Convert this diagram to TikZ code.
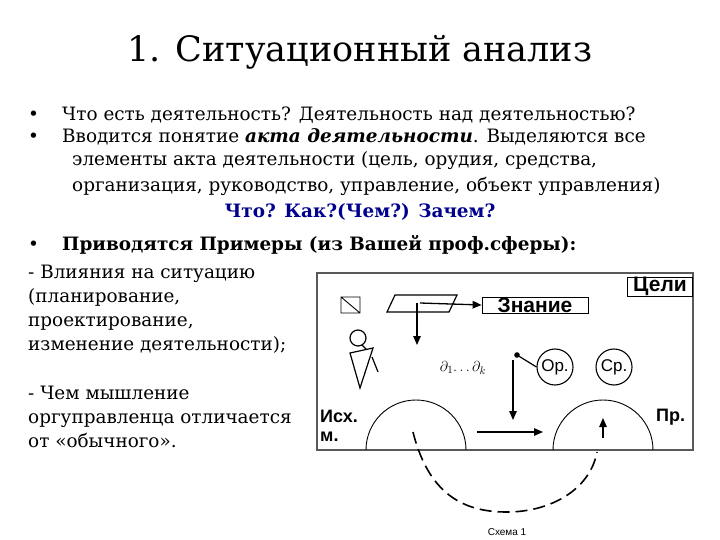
\documentclass[tikz,border=0pt]{standalone}
\usepackage{fontspec}
\setmainfont{DejaVu Serif}
\newfontfamily\schfont{Liberation Sans}
\usetikzlibrary{arrows.meta}
\begin{document}
\begin{tikzpicture}[x=1pt,y=-1pt,
  txt/.style={anchor=base west,inner sep=0,font=\fontsize{18.4}{20}\selectfont},
  sch/.style={font=\schfont\bfseries\fontsize{21}{22}\selectfont,inner sep=0},
  arr/.style={-{Triangle[length=9pt,width=7.5pt]},line width=1.3pt},
  ln/.style={line width=0.9pt}]
\useasboundingbox (0,0) rectangle (720,540);
\node[inner sep=0,font=\fontsize{35}{38}\selectfont] (title) at (360,52) {1. Ситуационный анализ};
\node[txt] (b1) at (28,121) {•};
\node[txt] (t1) at (62,121) {Что есть деятельность? Деятельность над деятельностью?};
\node[txt] (b2) at (28,143) {•};
\node[txt] (t2) at (62,143) {Вводится понятие \textbf{\textit{акта деятельности}}. Выделяются все};
\node[txt] (t3) at (72,166) {элементы акта деятельности (цель, орудия, средства,};
\node[txt] (t4) at (72,192) {организация, руководство, управление, объект управления)};
\node[txt,anchor=base,text=blue!55!black,font=\bfseries\fontsize{18.4}{20}\selectfont] (t5) at (360,218) {Что? Как?(Чем?) Зачем?};
\node[txt] (b3) at (28,251) {•};
\node[txt] (t6) at (62,251) {\textbf{Приводятся Примеры (из Вашей проф.сферы):}};
\node[txt] (l1) at (28,278) {- Влияния на ситуацию};
\node[txt] (l2) at (28,302) {(планирование,};
\node[txt] (l3) at (28,326) {проектирование,};
\node[txt] (l4) at (28,350) {изменение деятельности);};
\node[txt] (l5) at (28,399) {- Чем мышление};
\node[txt] (l6) at (28,423) {оргуправленца отличается};
\node[txt] (l7) at (28,447) {от «обычного».};
% schema
\draw[line width=1.3pt,gray!70!black] (317,273) rectangle (693,450);
\node[sch,draw,line width=1pt,minimum width=65pt,minimum height=16pt,anchor=north east] (goal) at (693,277) {Цели};
\draw[ln] (341,297) rectangle (360,313) (341,297) -- (360,313);
\coordinate (sq) at (350,305);
\draw[line width=1.2pt] (395,295) -- (457,295) -- (449,312) -- (387,312) -- cycle;
\coordinate (pa) at (420,303);
\node[sch,draw,line width=0.8pt,minimum width=106pt,minimum height=16pt] (kn) at (535,305) {Знание};
\draw[arr] (pa) -- (kn.west);
\coordinate (pd) at (417,345);
\draw[arr] (417,303) -- (pd);
\draw[line width=1.2pt] (358,338) circle (8);
\draw[line width=1.2pt] (350,353) -- (373,348) -- (360,388) -- cycle (372,357) -- (378,372) (362,345) -- (366,349);
\node[font=\itshape\fontsize{15}{16}\selectfont,inner sep=0] (dd) at (463,368) {$\partial_1\!\ldots\partial_k$};
\node[font=\schfont\fontsize{17}{18}\selectfont,draw,circle,line width=1.1pt,minimum size=36pt,inner sep=0] (op) at (555,367) {Ор.};
\node[font=\schfont\fontsize{17}{18}\selectfont,draw,circle,line width=1.1pt,minimum size=36pt,inner sep=0] (sr) at (614,367) {Ср.};
\fill (517,355) circle (2.8);
\draw[line width=1.2pt] (517,355) -- (op.west);
\coordinate (va) at (513,360); \coordinate (vb) at (513,420);
\draw[arr] (va) -- (vb);
\coordinate (ha) at (477,432); \coordinate (hb) at (543,432);
\draw[arr] (ha) -- (hb);
\draw[ln] (366,450) arc (180:360:50);
\draw[ln] (553,450) arc (180:360:50);
\coordinate (ua) at (603,438); \coordinate (ub) at (603,418);
\draw[arr] (ua) -- (ub);
\node[sch,anchor=west,align=left,font=\schfont\bfseries\fontsize{18}{19}\selectfont] (isx) at (320,426) {Исх.\\м.};
\node[sch,anchor=west,font=\schfont\bfseries\fontsize{18}{19}\selectfont] (pr) at (656,417) {Пр.};
\draw[line width=1.6pt,dash pattern=on 12pt off 6pt] (413,432) .. controls (430,500) and (470,512) .. (507,512) .. controls (550,512) and (590,490) .. (597,452);
\node[font=\schfont\fontsize{10}{11}\selectfont,inner sep=0] (cap) at (507,532) {Схема 1};
\end{tikzpicture}
\end{document}
